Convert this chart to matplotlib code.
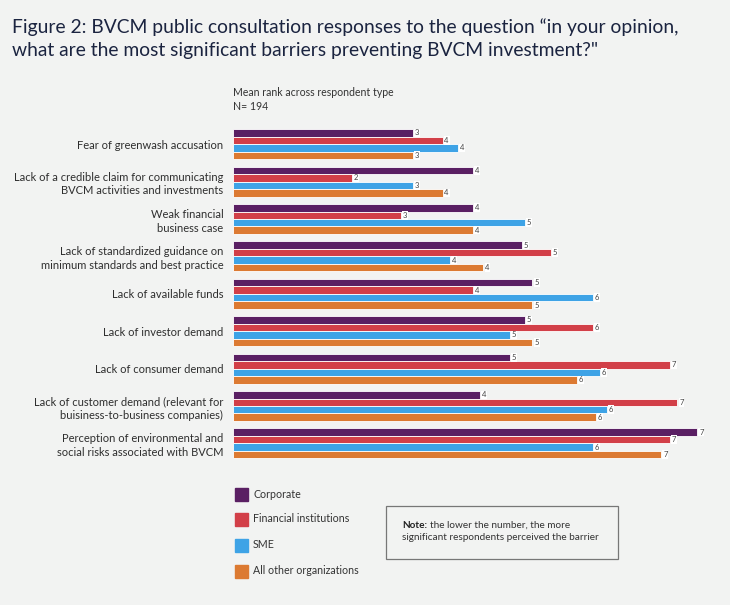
import numpy as np
import matplotlib.pyplot as plt
from matplotlib.patches import Rectangle

plt.rcParams['font.family'] = ['Lato', 'DejaVu Sans']

# barriers, top to bottom
barriers = ["Fear of greenwash accusation",
            "Lack of a credible claim for communicating\nBVCM activities and investments",
            "Weak financial\nbusiness case",
            "Lack of standardized guidance on\nminimum standards and best practice",
            "Lack of available funds",
            "Lack of investor demand",
            "Lack of consumer demand",
            "Lack of customer demand (relevant for\nbuisiness-to-business companies)",
            "Perception of environmental and\nsocial risks associated with BVCM"]

groups = ["Corporate", "Financial institutions", "SME", "All other organizations"]
colors = ["#5a1f63", "#d23f48", "#3ea3e6", "#dc7a32"]

# mean rank (bar length)
corporate = [2.90, 3.87, 3.87, 4.66, 4.83, 4.71, 4.47, 3.98, 7.49]
financial = [3.38, 1.92, 2.71, 5.13, 3.87, 5.80, 7.05, 7.17, 7.05]
sme       = [3.63, 2.90, 4.71, 3.50, 5.80, 4.47, 5.92, 6.03, 5.80]
other     = [2.90, 3.38, 3.87, 4.04, 4.83, 4.83, 5.55, 5.85, 6.91]

# rounded labels printed next to the bars
corporate_lbl = [3, 4, 4, 5, 5, 5, 5, 4, 7]
financial_lbl = [4, 2, 3, 5, 4, 6, 7, 7, 7]
sme_lbl       = [4, 3, 5, 4, 6, 5, 6, 6, 6]
other_lbl     = [3, 4, 4, 4, 5, 5, 6, 6, 7]

series = [corporate, financial, sme, other]
labels = [corporate_lbl, financial_lbl, sme_lbl, other_lbl]

bg = "#f2f3f2"
fig = plt.figure(figsize=(7.3, 6.05), dpi=100, facecolor=bg)
ax = fig.add_axes([0.3192, 0.2362, 0.667, 0.5564])
ax.set_facecolor(bg)

y = np.arange(len(barriers))
h = 0.2
offsets = [-0.3, -0.1, 0.1, 0.3]
for vals, lbls, col, off in zip(series, labels, colors, offsets):
    ax.barh(y + off, vals, height=h, color=col, edgecolor="white", linewidth=0.6)
    for yi, v, l in zip(y, vals, lbls):
        ax.text(v + 0.03, yi + off, str(l), fontsize=5.5, color="#444444",
                va="center", ha="left",
                bbox=dict(boxstyle="square,pad=0.1", fc="white", ec="none"))

ax.set_xlim(0, (720 - 233) / 62)
ax.set_ylim(8.5, -0.5)
ax.set_yticks(y)
ax.set_yticklabels(barriers, fontsize=8, color="#2e2e2e", linespacing=1.3)
ax.tick_params(axis="y", length=0, pad=7)
ax.set_xticks([])
for s in ax.spines.values():
    s.set_visible(False)

# title
fig.text(12 / 730, 1 - 18 / 605,
         "Figure 2: BVCM public consultation responses to the question \u201cin your opinion,\n"
         "what are the most significant barriers preventing BVCM investment?\"",
         fontsize=13.9, color="#1b2440", va="top", ha="left", linespacing=1.45)

fig.text(233 / 730, 1 - 92 / 605, "Mean rank across respondent type",
         fontsize=7.6, color="#333333", va="center")
fig.text(233 / 730, 1 - 107 / 605, "N= 194", fontsize=7.6, color="#333333", va="center")

# legend
leg_y = [494, 519, 545, 571]
for g, col, yy in zip(groups, colors, leg_y):
    fig.patches.append(Rectangle((235 / 730, 1 - (yy + 6.5) / 605), 13 / 730, 13 / 605,
                                 transform=fig.transFigure, color=col))
    fig.text(253 / 730, 1 - yy / 605, g, fontsize=7.7, color="#333333", va="center")

# note box
fig.patches.append(Rectangle((386 / 730, 1 - 559 / 605), 232 / 730, 53 / 605,
                             transform=fig.transFigure, fc="none", ec="#777777", lw=0.9))
note = fig.text(402 / 730, 1 - 525 / 605, "Note:", fontsize=7.2, color="#222222",
                fontweight="bold", va="center")
fig.canvas.draw()
bb = note.get_window_extent()
fig.text((bb.x1 + 3) / 730, 1 - 525 / 605, "the lower the number, the more", fontsize=7.2,
         color="#333333", va="center")
fig.text(402 / 730, 1 - 537 / 605, "significant respondents perceived the barrier",
         fontsize=7.2, color="#333333", va="center")

fig.savefig("out.png", dpi=100, facecolor=bg)
